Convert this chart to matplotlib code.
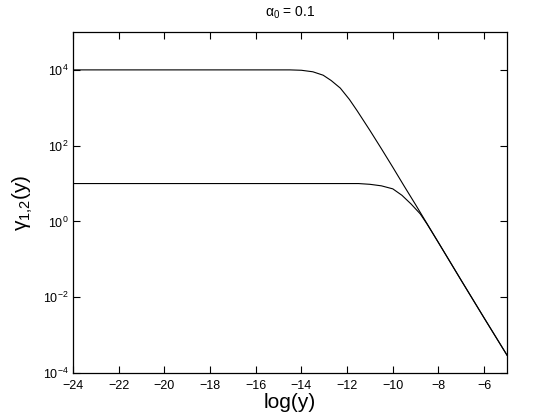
import numpy as np
import matplotlib
matplotlib.use('Agg')
import matplotlib.pyplot as plt
from matplotlib.ticker import LogFormatterMathtext, NullLocator

plt.rcParams['font.family'] = 'Liberation Sans'
plt.rcParams['mathtext.fontset'] = 'custom'
plt.rcParams['mathtext.rm'] = 'Liberation Sans'
plt.rcParams['mathtext.it'] = 'Liberation Sans'
plt.rcParams['mathtext.bf'] = 'Liberation Sans:bold'

# curve: x = log(y), values are log10(gamma)
x_upper = [-24, -14.5, -14.0, -13.5, -13.05, -12.7, -12.3, -11.9, -11.56,
           -11.0, -10.5, -10.0, -9.5, -9.0, -8.5, -8.0, -7.0, -6.0, -5.0]
lg_upper = [4.0, 4.0, 3.99, 3.95, 3.86, 3.72, 3.52, 3.22, 2.92,
            2.40, 1.92, 1.43, 0.93, 0.44, -0.06, -0.56, -1.56, -2.55, -3.53]

x_lower = [-24, -11.5, -11.0, -10.5, -10.0, -9.6, -9.2, -8.8, -8.5,
           -8.0, -7.0, -6.0, -5.0]
lg_lower = [1.0, 1.0, 0.98, 0.94, 0.86, 0.69, 0.46, 0.20, -0.07,
            -0.56, -1.56, -2.55, -3.53]

xticks = [-24, -22, -20, -18, -16, -14, -12, -10, -8, -6]
yticks = [1e-4, 1e-2, 1e0, 1e2, 1e4]

fig = plt.figure(figsize=(5.6, 4.2), dpi=100)
ax = fig.add_axes([0.1304, 0.1119, 0.775, 0.8119])

ax.semilogy(x_upper, np.power(10.0, lg_upper), color='black', lw=0.8)
ax.semilogy(x_lower, np.power(10.0, lg_lower), color='black', lw=0.8)

ax.set_xlim(-24, -5)
ax.set_ylim(1e-4, 1e5)
ax.set_xticks(xticks)
ax.set_yticks(yticks)
ax.yaxis.set_major_formatter(LogFormatterMathtext())
ax.yaxis.set_minor_locator(NullLocator())
ax.tick_params(direction='in', top=True, right=True, length=5, width=0.8,
               labelsize=9)
ax.tick_params(axis='x', pad=5)
ax.tick_params(axis='y', pad=3)
for s in ax.spines.values():
    s.set_linewidth(0.9)

ax.set_title(r'$\alpha_0$ = 0.1', fontsize=10, pad=11)
ax.set_xlabel('log(y)', fontsize=15, labelpad=1)
ax.set_ylabel(r'$\gamma_{1{,}2}$(y)', fontsize=15, labelpad=6)

fig.savefig('out.png', dpi=100)
